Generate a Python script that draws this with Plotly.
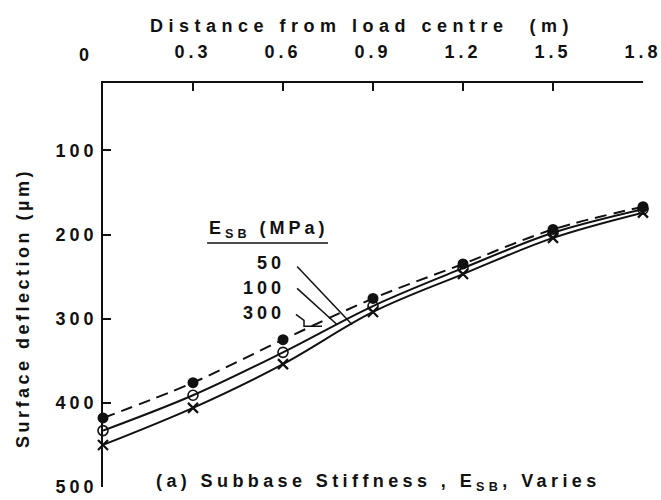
import plotly.graph_objects as go

# ---- data ----
distance = [0, 0.3, 0.6, 0.9, 1.2, 1.5, 1.8]
defl_300 = [418, 376, 325, 276, 235, 194, 167]   # filled circles, dashed
defl_100 = [433, 391, 340, 285, 240, 198, 170]   # open circles, solid
defl_50 = [450, 406, 354, 292, 247, 204, 174]    # crosses, solid
x_ticks = [0, 0.3, 0.6, 0.9, 1.2, 1.5, 1.8]
y_ticks = [100, 200, 300, 400, 500]
legend_labels = ["50", "100", "300"]

FONT = "Liberation Sans, Arial, sans-serif"
INK = "#111111"


def sp(t, ls=4):
    return '<span style="letter-spacing:%spx">%s</span>' % (ls, t)


fig = go.Figure()
fig.add_trace(go.Scatter(
    x=distance, y=defl_300, mode="lines+markers", line_shape="spline",
    line=dict(color=INK, width=2, dash="12px,7px"), cliponaxis=False,
    marker=dict(symbol="circle", size=11, color=INK), showlegend=False))
fig.add_trace(go.Scatter(
    x=distance, y=defl_100, mode="lines+markers", line_shape="spline",
    line=dict(color=INK, width=2), cliponaxis=False,
    marker=dict(symbol="circle-open", size=10, color=INK, line=dict(width=1.6)),
    showlegend=False))
fig.add_trace(go.Scatter(
    x=distance, y=defl_50, mode="lines+markers", line_shape="spline",
    line=dict(color=INK, width=2), cliponaxis=False,
    marker=dict(symbol="x-thin-open", size=10, color=INK, line=dict(width=2.2, color=INK)),
    showlegend=False))

fig.update_layout(
    width=661, height=500,
    margin=dict(l=103, r=18, t=83, b=13, autoexpand=False),
    paper_bgcolor="white", plot_bgcolor="white",
    font=dict(family=FONT, size=18, color=INK, weight="bold"),
    xaxis=dict(
        side="top", range=[0, 1.8], tickmode="array", tickvals=x_ticks,
        ticktext=[""] + [sp(str(v)) for v in x_ticks[1:]],
        ticks="inside", ticklen=8, tickwidth=1.5, tickcolor=INK,
        ticklabelstandoff=16, ticklabeloverflow="allow",
        showline=True, linewidth=1.5, linecolor=INK, mirror=False,
        showgrid=False, zeroline=False, fixedrange=True, automargin=False),
    yaxis=dict(
        range=[500, 20], tickmode="array", tickvals=y_ticks,
        ticktext=[sp(str(v)) for v in y_ticks], ticklabeloverflow="allow",
        ticks="inside", ticklen=8, tickwidth=1.5, tickcolor=INK,
        showline=True, linewidth=1.5, linecolor=INK,
        showgrid=False, zeroline=False, fixedrange=True, automargin=False),
)

ann = []
# "0" tick label shifted left
ann.append(dict(x=0, xref="x", y=1, yref="paper", text=sp("0"), showarrow=False,
                xanchor="center", yanchor="middle", xshift=-17, yshift=28))
# top axis title
ann.append(dict(x=0.48, xref="paper", y=1, yref="paper", yshift=57,
                text=sp("Distance from load centre&nbsp;&nbsp;(m)", 5.5), showarrow=False,
                xanchor="center", yanchor="middle"))
# y axis title
ann.append(dict(x=0, xref="paper", y=0.443, yref="paper", xshift=-80,
                text=sp("Surface deflection (µm)", 3.5), textangle=-90, showarrow=False,
                xanchor="center", yanchor="middle"))
# legend header
ann.append(dict(x=0.347, xref="x", y=193.5, yref="y", text=sp("E<sub>SB</sub> (MPa)", 4),
                showarrow=False, xanchor="left", yanchor="middle"))
for lab, yv in zip(legend_labels, [234, 263.5, 293]):
    ann.append(dict(x=0.613, xref="x", y=yv, yref="y", text=sp(lab, 4),
                    showarrow=False, xanchor="right", yanchor="middle"))
# caption
ann.append(dict(x=0.51, xref="paper", y=0.01, yref="paper",
                text=sp("(a) Subbase Stiffness , E<sub>SB</sub>, Varies", 4.4),
                showarrow=False, xanchor="center", yanchor="middle"))
fig.update_layout(annotations=ann)

shapes = []
# legend underline
shapes.append(dict(type="line", xref="x", yref="y", x0=0.347, x1=0.75, y0=210, y1=210,
                   line=dict(color=INK, width=1.5)))
# leader lines
shapes.append(dict(type="path", xref="x", yref="y",
                   path="M 0.647 238 L 0.83 307", line=dict(color=INK, width=1.5)))
shapes.append(dict(type="path", xref="x", yref="y",
                   path="M 0.647 264 L 0.78 307", line=dict(color=INK, width=1.5)))
shapes.append(dict(type="path", xref="x", yref="y",
                   path="M 0.643 295 L 0.67 302 L 0.67 309 L 0.73 309",
                   line=dict(color=INK, width=1.5)))
fig.update_layout(shapes=shapes)

fig.write_html("out.html")
